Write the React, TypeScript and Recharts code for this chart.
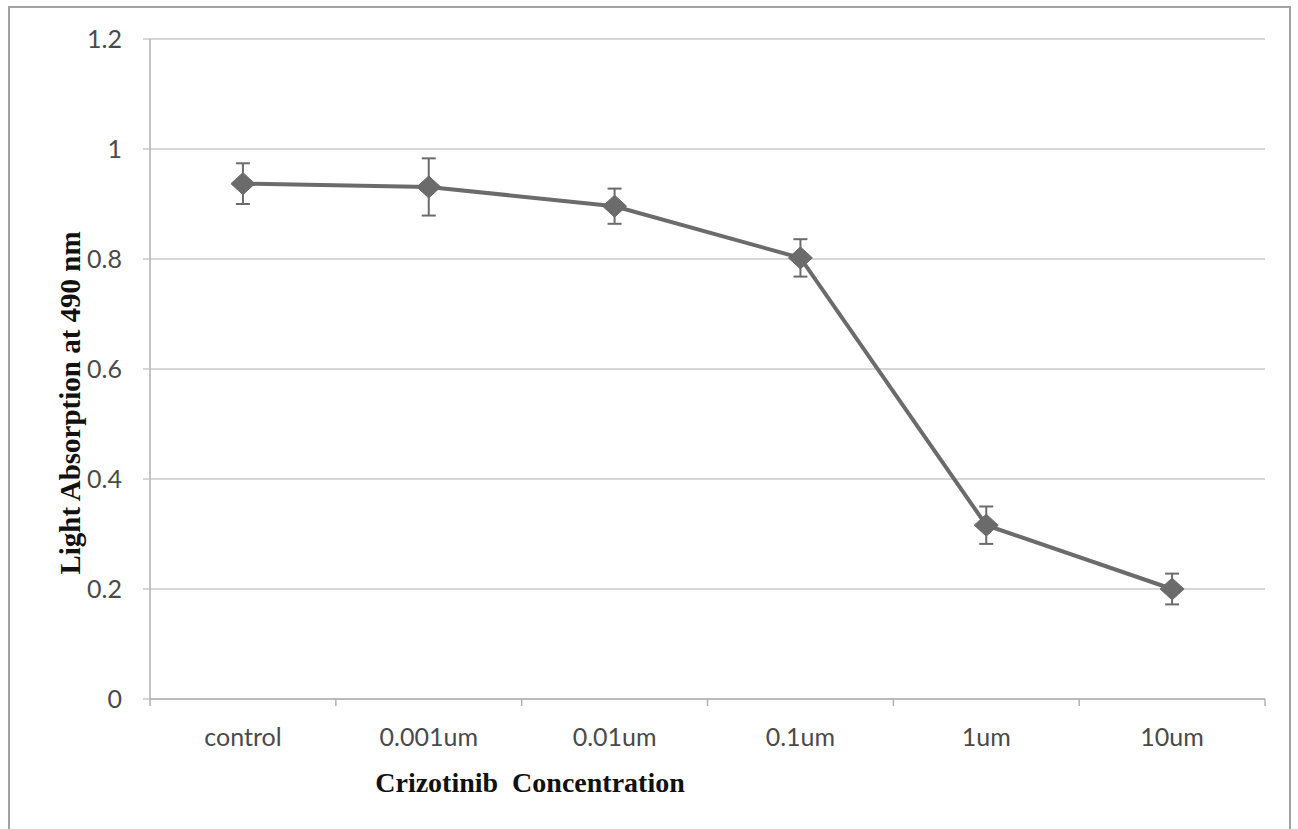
import React from 'react';
import { LineChart, Line, XAxis, YAxis, CartesianGrid, ErrorBar, Label } from 'recharts';

const categories = ['control', '0.001um', '0.01um', '0.1um', '1um', '10um'];
const absorbance = [0.937, 0.931, 0.896, 0.802, 0.316, 0.2];
const stdDev = [0.037, 0.052, 0.032, 0.034, 0.034, 0.028];
const yTicks = [0, 0.2, 0.4, 0.6, 0.8, 1, 1.2];

const xTitle = 'Crizotinib  Concentration';
const yTitle = 'Light Absorption at 490 nm';

const data = categories.map((c, i) => ({ name: c, value: absorbance[i], err: stdDev[i] }));

const W = 1298;
const H = 829;
const Y_W = 90;
const X_H = 100;
const MARGIN = { top: 39, right: 33, left: 60, bottom: 30 };
const PLOT_W = W - MARGIN.left - Y_W - MARGIN.right;
const HALF_BAND = PLOT_W / categories.length / 2;

const LINE_COLOR = '#6b6b6b';
const GRID_COLOR = '#c8c8c8';
const AXIS_COLOR = '#b0b0b0';
const TICK_COLOR = '#4a4a4a';
const TICK_FONT = 'Lato, "Open Sans", sans-serif';
const TITLE_FONT = '"Liberation Serif", "DejaVu Serif", serif';

const Diamond = (props: any) => {
  const { cx, cy } = props;
  if (cx == null || cy == null) return null;
  const rx = 12;
  const ry = 11;
  return (
    <path
      d={`M${cx},${cy - ry} L${cx + rx},${cy} L${cx},${cy + ry} L${cx - rx},${cy} Z`}
      fill={LINE_COLOR}
      stroke={LINE_COLOR}
      strokeWidth={1}
    />
  );
};

const XTick = (props: any) => {
  const { x, y, payload, index } = props;
  const last = index === categories.length - 1;
  return (
    <g>
      <line x1={x - HALF_BAND} y1={y} x2={x - HALF_BAND} y2={y + 7} stroke={AXIS_COLOR} strokeWidth={1.5} />
      {last && (
        <line x1={x + HALF_BAND} y1={y} x2={x + HALF_BAND} y2={y + 7} stroke={AXIS_COLOR} strokeWidth={1.5} />
      )}
      <text x={x} y={y + 47} textAnchor="middle" fill={TICK_COLOR} fontSize={25} fontFamily={TICK_FONT}>
        {payload.value}
      </text>
    </g>
  );
};

const XTitle = (props: any) => {
  const vb = props.viewBox || { x: 150, y: 699, width: 1115, height: 100 };
  return (
    <text
      x={vb.x + 380}
      y={vb.y + 93}
      textAnchor="middle"
      fontFamily={TITLE_FONT}
      fontWeight="bold"
      fontSize={28}
      fill="#111"
      style={{ whiteSpace: 'pre' }}
    >
      {xTitle}
    </text>
  );
};

const YTitle = (props: any) => {
  const vb = props.viewBox || { x: 60, y: 39, width: 90, height: 660 };
  const tx = vb.x + 10;
  const ty = vb.y + vb.height / 2 + 34;
  return (
    <text
      x={tx}
      y={ty}
      transform={`rotate(-90, ${tx}, ${ty})`}
      textAnchor="middle"
      dominantBaseline="central"
      fontFamily={TITLE_FONT}
      fontWeight="bold"
      fontSize={29}
      fill="#111"
    >
      {yTitle}
    </text>
  );
};

export default function App() {
  return (
    <div style={{ position: 'absolute', left: 0, top: 0, width: W, height: H, background: '#fff' }}>
      <div
        style={{
          position: 'absolute',
          left: 8,
          top: 6,
          width: 1283,
          height: 830,
          border: '2px solid #a3a3a3',
          boxSizing: 'border-box',
        }}
      />
      <div style={{ position: 'absolute', left: 0, top: 0 }}>
        <LineChart width={W} height={H} data={data} margin={MARGIN}>
          <CartesianGrid vertical={false} stroke={GRID_COLOR} strokeWidth={1.5} />
          <XAxis
            dataKey="name"
            height={X_H}
            interval={0}
            padding={{ left: HALF_BAND, right: HALF_BAND }}
            tickLine={false}
            tickSize={0}
            tickMargin={0}
            axisLine={{ stroke: AXIS_COLOR, strokeWidth: 1.5 }}
            tick={<XTick />}
          >
            <Label content={<XTitle />} />
          </XAxis>
          <YAxis
            width={Y_W}
            domain={[0, 1.2]}
            ticks={yTicks}
            interval={0}
            tickSize={7}
            tickMargin={21}
            tickLine={{ stroke: GRID_COLOR, strokeWidth: 1.5 }}
            axisLine={{ stroke: AXIS_COLOR, strokeWidth: 1.5 }}
            tick={{ fill: TICK_COLOR, fontSize: 25, fontFamily: TICK_FONT }}
          >
            <Label content={<YTitle />} />
          </YAxis>
          <Line
            type="linear"
            dataKey="value"
            stroke={LINE_COLOR}
            strokeWidth={4}
            dot={<Diamond />}
            activeDot={false}
            isAnimationActive={false}
          >
            <ErrorBar dataKey="err" direction="y" width={7} stroke={LINE_COLOR} strokeWidth={2} />
          </Line>
        </LineChart>
      </div>
    </div>
  );
}
